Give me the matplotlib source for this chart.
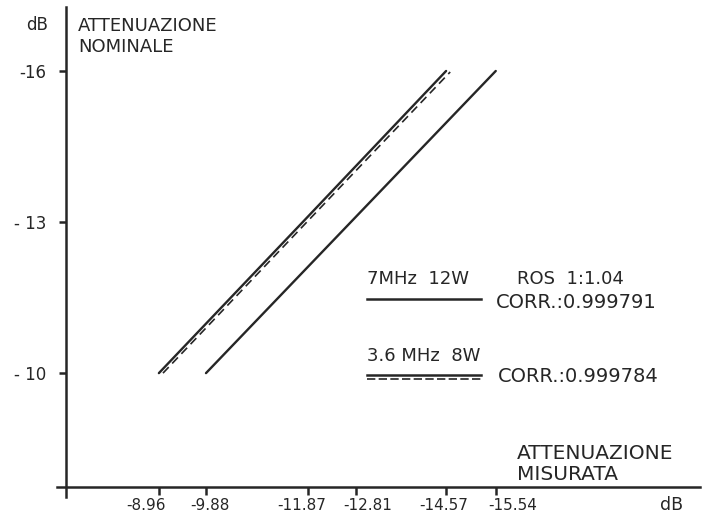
"""
Attenuazione nominale vs misurata (scansione di un grafico disegnato a mano).
"""

import matplotlib
matplotlib.use('Agg')  # Non-interactive backend
import matplotlib.pyplot as plt
from matplotlib.transforms import ScaledTranslation

INK = '#262626'

# Attenuazione nominale (dB) - asse y
nominale = [-10, -13, -16]

# Attenuazione misurata (dB) - asse x
mis_7mhz = [-9.88, -12.71, -15.54]      # 7 MHz 12 W
mis_36mhz = [-8.96, -11.77, -14.57]     # 3.6 MHz 8 W
fit_36mhz = [-9.04, -11.85, -14.65]     # 3.6 MHz, retta tratteggiata
fit_36_nom = [-10, -13, -15.98]

x_ticks = [-8.96, -9.88, -11.87, -12.81, -14.57, -15.54]
x_ticklabels = ['-8.96', '-9.88', '-11.87', '-12.81', '-14.57', '-15.54']
y_ticks = [-16, -13, -10]
y_ticklabels = ['-16', '- 13', '- 10']

corr_7mhz = 'CORR.:0.999791'
corr_36mhz = 'CORR.:0.999784'

plt.rcParams['font.family'] = ['DejaVu Sans']
plt.rcParams['text.color'] = INK

fig = plt.figure(figsize=(7.02, 5.16), dpi=100)
ax = fig.add_axes([0.0812, 0.0368, 0.916, 0.9496])

# Rette
ax.plot(mis_36mhz, nominale, color=INK, lw=1.7, solid_capstyle='round')
ax.plot(fit_36mhz, fit_36_nom, color=INK, lw=1.2, linestyle=(0, (5, 3)))
ax.plot(mis_7mhz, nominale, color=INK, lw=1.7, solid_capstyle='round')

# Assi invertiti (valori negativi crescono verso destra / in alto)
ax.set_xlim(-6.97, -19.53)
ax.set_ylim(-7.54, -17.27)

for side in ['top', 'right']:
    ax.spines[side].set_visible(False)
ax.spines['left'].set_position(('data', -7.14))
ax.spines['bottom'].set_position(('data', -7.735))
for side in ['left', 'bottom']:
    ax.spines[side].set_color(INK)
    ax.spines[side].set_linewidth(1.8)

ax.set_xticks(x_ticks)
ax.set_xticklabels(x_ticklabels)
ax.set_yticks(y_ticks)
ax.set_yticklabels(y_ticklabels)
ax.tick_params(axis='both', colors=INK, width=1.8)
ax.tick_params(axis='x', length=6, pad=2, labelsize=11)
ax.tick_params(axis='y', length=5, pad=9, labelsize=12)

# etichette scritte a mano non centrate sulle tacche (spostamento in pixel)
x_label_shift = [-13, 4, -6, 12, -2, 17]
for lab, dx in zip(ax.get_xticklabels(), x_label_shift):
    lab.set_transform(lab.get_transform() + ScaledTranslation(dx / 100, 0, fig.dpi_scale_trans))

# Titoli assi
fig.text(0.0527, 0.9516, 'dB', fontsize=12, ha='center', va='center')
fig.text(0.111, 0.967, 'ATTENUAZIONE\nNOMINALE', fontsize=13, ha='left', va='top',
         linespacing=1.2)
fig.text(0.7365, 0.1395, 'ATTENUAZIONE\nMISURATA', fontsize=14.5, ha='left', va='top',
         linespacing=1.1)
fig.text(0.956, 0.0213, 'dB', fontsize=12.5, ha='center', va='center')

# Legenda disegnata a mano
fig.text(0.5228, 0.4496, '7MHz  12W', fontsize=13, ha='left', va='baseline')
fig.text(0.7365, 0.4496, 'ROS  1:1.04', fontsize=13, ha='left', va='baseline')
ax.plot([0.5228, 0.6852], [0.4196, 0.4196], color=INK, lw=1.8,
        transform=fig.transFigure, clip_on=False)
fig.text(0.7066, 0.4147, corr_7mhz, fontsize=14, ha='left', va='center')

fig.text(0.5228, 0.3004, '3.6 MHz  8W', fontsize=13, ha='left', va='baseline')
ax.plot([0.5228, 0.6852], [0.2740, 0.2740], color=INK, lw=1.8,
        transform=fig.transFigure, clip_on=False)
ax.plot([0.5228, 0.6852], [0.2655, 0.2655], color=INK, lw=1.2, linestyle=(0, (5, 2)),
        transform=fig.transFigure, clip_on=False)
fig.text(0.7094, 0.2694, corr_36mhz, fontsize=14, ha='left', va='center')

fig.savefig('out.png', dpi=100, facecolor='white')
plt.close(fig)
